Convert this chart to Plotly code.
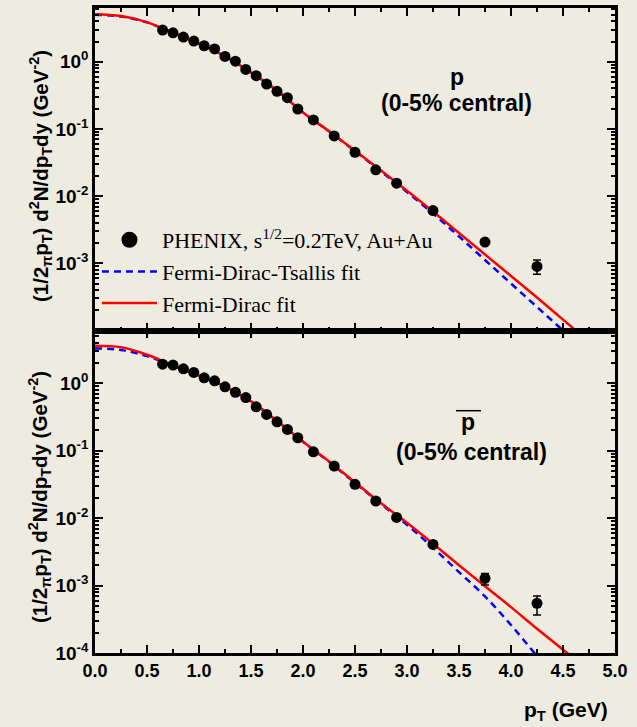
import plotly.graph_objects as go
from plotly.subplots import make_subplots

# ---------------- data ----------------
pt_data = [0.65, 0.75, 0.85, 0.95, 1.05, 1.15, 1.25, 1.35, 1.45, 1.55, 1.65,
           1.75, 1.85, 1.95, 2.1, 2.3, 2.5, 2.7, 2.9, 3.25, 3.75, 4.25]

p_yield = [2.96, 2.70, 2.33, 2.03, 1.73, 1.55, 1.20, 1.02, 0.77, 0.62, 0.466,
           0.363, 0.292, 0.198, 0.136, 0.0787, 0.045, 0.0246, 0.0156, 0.0061,
           0.00207, 0.0009]
p_err_hi = [None] * 21 + [0.00022]
p_err_lo = [None] * 21 + [0.00021]

pbar_yield = [1.91, 1.85, 1.63, 1.44, 1.20, 1.08, 0.88, 0.73, 0.61, 0.446, 0.343,
              0.267, 0.206, 0.155, 0.096, 0.059, 0.0316, 0.0179, 0.0102, 0.00407,
              0.00128, 0.000545]
pbar_err_hi = [None] * 20 + [0.00023, 0.000153]
pbar_err_lo = [None] * 20 + [0.00026, 0.000179]

pt_fit = [0.0, 0.25, 0.5, 0.75, 1.0, 1.25, 1.5, 1.75, 2.0, 2.25, 2.5, 2.75,
          3.0, 3.25, 3.5, 3.75, 4.0, 4.25, 4.5, 4.75]

p_fd = [5.105, 4.786, 3.89, 2.69, 1.86, 1.20, 0.692, 0.372, 0.176, 0.0923,
        0.0473, 0.0240, 0.0120, 0.00589, 0.00282, 0.00135, 6.46e-4, 3.09e-4,
        1.45e-4, 6.8e-5]
p_fdt = [5.01, 4.70, 3.85, 2.69, 1.86, 1.20, 0.692, 0.372, 0.176, 0.0923,
         0.0468, 0.0234, 0.0115, 0.0055, 0.00251, 0.00112, 5.0e-4, 2.24e-4,
         1.0e-4, 4.5e-5]

pbar_fd = [3.57, 3.39, 2.63, 1.82, 1.29, 0.891, 0.537, 0.275, 0.135, 0.0692,
           0.0339, 0.0166, 0.00851, 0.00417, 0.00200, 9.77e-4, 4.79e-4, 2.29e-4,
           1.12e-4, 5.5e-5]
pbar_fdt = [3.27, 3.09, 2.51, 1.80, 1.29, 0.891, 0.537, 0.275, 0.135, 0.0684,
            0.0331, 0.0162, 0.00794, 0.00363, 0.00158, 6.9e-4, 2.6e-4, 9.0e-5,
            3.2e-5, 1.2e-5]

x_tickvals = [0.0, 0.5, 1.0, 1.5, 2.0, 2.5, 3.0, 3.5, 4.0, 4.5, 5.0]
x_ticktext = ["0.0", "0.5", "1.0", "1.5", "2.0", "2.5", "3.0", "3.5", "4.0", "4.5", "5.0"]
y_tickvals_top = [1e-3, 1e-2, 1e-1, 1e0]
y_ticktext_top = ["<b>10<sup>-3</sup></b>", "<b>10<sup>-2</sup></b>",
                  "<b>10<sup>-1</sup></b>", "<b>10<sup>0</sup></b>"]
y_tickvals_bot = [1e-4, 1e-3, 1e-2, 1e-1, 1e0]
y_ticktext_bot = ["<b>10<sup>-4</sup></b>", "<b>10<sup>-3</sup></b>", "<b>10<sup>-2</sup></b>",
                  "<b>10<sup>-1</sup></b>", "<b>10<sup>0</sup></b>"]

legend_labels = ["PHENIX, s<sup>1/2</sup>=0.2TeV, Au+Au",
                 "Fermi-Dirac-Tsallis fit", "Fermi-Dirac fit"]

# ---------------- styling ----------------
BG = "#EEECE1"
SANS = "Liberation Sans, Arial, sans-serif"
SERIF = "Liberation Serif, Times New Roman, serif"
RED = "#FF0000"
BLUE = "#0000FF"

fig = make_subplots(rows=2, cols=1, shared_xaxes=True, vertical_spacing=0)

panels = [
    (1, p_yield, p_err_hi, p_err_lo, p_fdt, p_fd),
    (2, pbar_yield, pbar_err_hi, pbar_err_lo, pbar_fdt, pbar_fd),
]
for row, yv, ehi, elo, fdt, fd in panels:
    fig.add_trace(go.Scatter(x=pt_fit, y=fdt, mode="lines", line_shape="spline",
                             line=dict(color=BLUE, width=2.5, dash="7px,5px"),
                             showlegend=False, hoverinfo="skip"), row=row, col=1)
    fig.add_trace(go.Scatter(x=pt_fit, y=fd, mode="lines", line_shape="spline",
                             line=dict(color=RED, width=2.5),
                             showlegend=False, hoverinfo="skip"), row=row, col=1)
    fig.add_trace(go.Scatter(x=pt_data, y=yv, mode="markers",
                             marker=dict(color="black", size=11, symbol="circle"),
                             error_y=dict(type="data", symmetric=False, array=ehi,
                                          arrayminus=elo, color="black",
                                          thickness=1.5, width=4),
                             showlegend=False), row=row, col=1)

# legend-only entries
fig.add_trace(go.Scatter(x=[None], y=[None], mode="markers", name=legend_labels[0],
                         marker=dict(color="black", size=16)), row=1, col=1)
fig.add_trace(go.Scatter(x=[None], y=[None], mode="lines", name=legend_labels[1],
                         line=dict(color=BLUE, width=2.5, dash="7px,5px")), row=1, col=1)
fig.add_trace(go.Scatter(x=[None], y=[None], mode="lines", name=legend_labels[2],
                         line=dict(color=RED, width=2.5)), row=1, col=1)

axis_common = dict(showline=True, linewidth=2.5, linecolor="black", mirror="allticks",
                   ticks="inside", tickwidth=2, tickcolor="black", showgrid=False,
                   zeroline=False)

for ax in ["xaxis", "xaxis2"]:
    fig.layout[ax].update(range=[0, 5], tickvals=x_tickvals, ticktext=x_ticktext,
                          ticklen=8,
                          minor=dict(ticks="inside", ticklen=4, tickwidth=2,
                                     tickcolor="black", dtick=0.25, showgrid=False),
                          tickfont=dict(family=SANS, size=18, color="black", weight="bold"),
                          **axis_common)
fig.layout.xaxis.update(showticklabels=False)

fig.update_yaxes(type="log", ticklen=8,
                 minor=dict(ticks="inside", ticklen=4, tickwidth=1.5, tickcolor="black",
                            dtick="D1", showgrid=False),
                 tickfont=dict(family=SANS, size=19, color="black"), **axis_common)
fig.layout.yaxis.update(range=[-4, 0.8], tickvals=y_tickvals_top, ticktext=y_ticktext_top,
                        domain=[0.5, 1.0])
fig.layout.yaxis2.update(range=[-4, 0.78], tickvals=y_tickvals_bot, ticktext=y_ticktext_bot,
                         domain=[0.0, 0.5])

ytitle = "(1/2<sub>π</sub>p<sub>T</sub>) d<sup>2</sup>N/dp<sub>T</sub>dy (GeV<sup>-2</sup>)"
ann_font = dict(family=SANS, size=23, color="black", weight="bold")
title_font = dict(family=SANS, size=20.5, color="black", weight="bold")
annotations = [
    dict(text=ytitle, x=-0.1058, y=0.7395, xref="paper", yref="paper", textangle=-90,
         showarrow=False, xanchor="center", yanchor="middle", font=title_font),
    dict(text=ytitle, x=-0.1058, y=0.2419, xref="paper", yref="paper", textangle=-90,
         showarrow=False, xanchor="center", yanchor="middle", font=title_font),
    dict(text="p", x=0.6956, y=0.8935, xref="paper", yref="paper", showarrow=False,
         xanchor="center", yanchor="middle", font=ann_font),
    dict(text="(0-5% central)", x=0.6956, y=0.852, xref="paper", yref="paper",
         showarrow=False, xanchor="center", yanchor="middle", font=ann_font),
    dict(text="p", x=0.717, y=0.3586, xref="paper", yref="paper", showarrow=False,
         xanchor="center", yanchor="middle", font=ann_font),
    dict(text="(0-5% central)", x=0.7244, y=0.312, xref="paper", yref="paper",
         showarrow=False, xanchor="center", yanchor="middle", font=ann_font),
    dict(text="p<sub>T</sub> (GeV)", x=0.906, y=-0.09, xref="paper", yref="paper",
         showarrow=False, xanchor="center", yanchor="middle",
         font=dict(family=SANS, size=21, color="black", weight="bold")),
]

# overline over the anti-proton label
shapes = [dict(type="line", xref="paper", yref="paper",
               x0=(456 - 95) / 520, x1=(481 - 95) / 520,
               y0=(653 - 410.7) / 645, y1=(653 - 410.7) / 645,
               line=dict(color="black", width=1.5))]

fig.update_layout(
    width=637, height=727,
    margin=dict(l=95, r=22, t=8, b=74, autoexpand=False),
    paper_bgcolor=BG, plot_bgcolor=BG,
    annotations=annotations, shapes=shapes,
    showlegend=True,
    legend=dict(x=0.0038, y=0.6729, xanchor="left", yanchor="top",
                bgcolor="rgba(0,0,0,0)", borderwidth=0, itemwidth=55,
                font=dict(family=SERIF, size=22, color="black"),
                tracegroupgap=0),
)

fig.write_html("out.html")
